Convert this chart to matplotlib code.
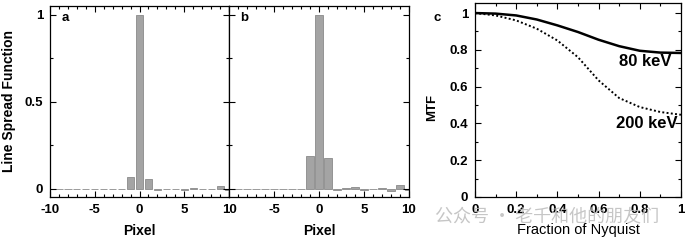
import matplotlib
matplotlib.use("Agg")
import matplotlib.pyplot as plt
from matplotlib.ticker import MultipleLocator

# line spread function, pixels -10..10
pixels = list(range(-10, 11))
lsf_a = [0.0, 0.0, 0.0, 0.0, 0.0, 0.0, 0.0, 0.0, 0.0, 0.07, 1.0, 0.06,
         -0.005, -0.003, 0.002, -0.008, 0.004, -0.003, -0.002, 0.015, -0.005]
lsf_b = [0.0, 0.0, 0.0, 0.0, 0.0, 0.0, 0.0, 0.0, 0.002, 0.19, 1.0, 0.18,
         -0.005, 0.003, 0.012, -0.005, -0.003, 0.004, -0.01, 0.02, -0.005]
pixel_ticks = [-10, -5, 0, 5, 10]
pixel_labels_a = ["-10", "-5", "0", "5", "10"]
pixel_labels_b = ["", "-5", "0", "5", "10"]

# MTF vs fraction of Nyquist
nyq = [0.0, 0.1, 0.2, 0.3, 0.4, 0.5, 0.6, 0.7, 0.8, 0.9, 1.0]
mtf_80 = [1.0, 0.997, 0.987, 0.965, 0.933, 0.897, 0.855, 0.82, 0.795, 0.785, 0.783]
mtf_200 = [1.0, 0.987, 0.96, 0.915, 0.851, 0.76, 0.634, 0.538, 0.489, 0.462, 0.447]
frac_ticks = [0, 0.2, 0.4, 0.6, 0.8, 1]
frac_labels = ["0", "0.2", "0.4", "0.6", "0.8", "1"]

plt.rcParams["font.family"] = ["Liberation Sans", "DejaVu Sans"]
plt.rcParams["font.weight"] = "bold"

fig = plt.figure(figsize=(6.92, 2.45), dpi=100)
ax_a = fig.add_axes([0.0723, 0.196, 0.2587, 0.78])
ax_b = fig.add_axes([0.331, 0.196, 0.26, 0.78])
ax_c = fig.add_axes([0.6864, 0.196, 0.2976, 0.792])


def style_ticks(ax):
    ax.tick_params(which="both", direction="in", top=True, right=True,
                   labelsize=9.5, width=0.8, pad=5)
    ax.tick_params(which="major", length=4)
    ax.tick_params(which="minor", length=2.5)
    for sp in ax.spines.values():
        sp.set_linewidth(0.9)


bar_kw = dict(width=0.8, color="#a4a4a4", edgecolor="#8a8a8a", linewidth=0.6)
for ax, vals, lab, xlabs in [(ax_a, lsf_a, "a", pixel_labels_a),
                             (ax_b, lsf_b, "b", pixel_labels_b)]:
    ax.bar(pixels, vals, **bar_kw)
    ax.set_xlim(-10, 10)
    ax.set_ylim(-0.046, 1.052)
    ax.xaxis.set_minor_locator(MultipleLocator(1))
    ax.yaxis.set_minor_locator(MultipleLocator(0.25))
    ax.set_xticks(pixel_ticks)
    ax.set_xticklabels(xlabs)
    ax.set_yticks([0, 0.5, 1])
    style_ticks(ax)
    ax.set_xlabel("Pixel", fontsize=10, fontweight="bold", labelpad=6)
    ax.text(0.085, 0.937, lab, transform=ax.transAxes, fontsize=9.5,
            fontweight="bold", va="center", ha="center")
ax_a.set_yticklabels(["0", "0.5", "1"])
ax_a.set_ylabel("Line Spread Function", fontsize=10, fontweight="bold", labelpad=6)
ax_b.tick_params(labelleft=False)

ax_c.plot(nyq, mtf_80, color="black", linewidth=1.8)
ax_c.plot(nyq, mtf_200, color="black", linewidth=1.4, linestyle=(0, (1, 1.2)))
ax_c.set_xlim(0, 1)
ax_c.set_ylim(0, 1.055)
ax_c.xaxis.set_minor_locator(MultipleLocator(0.1))
ax_c.yaxis.set_minor_locator(MultipleLocator(0.1))
ax_c.set_xticks(frac_ticks)
ax_c.set_xticklabels(frac_labels)
ax_c.set_yticks(frac_ticks)
ax_c.set_yticklabels(frac_labels)
style_ticks(ax_c)
ax_c.set_ylabel("MTF", fontsize=9.5, fontweight="bold")
ax_c.yaxis.set_label_coords(-0.18, 0.46)
ax_c.set_xlabel("Fraction of Nyquist", fontsize=10.5, fontweight="normal", labelpad=5)
ax_c.text(-0.185, 0.923, "c", transform=ax_c.transAxes, fontsize=9.5,
          fontweight="bold", va="center", ha="center")
ax_c.text(0.825, 0.696, "80 keV", transform=ax_c.transAxes, fontsize=12,
          fontweight="bold", ha="center", va="center")
ax_c.text(0.835, 0.381, "200 keV", transform=ax_c.transAxes, fontsize=12,
          fontweight="bold", ha="center", va="center")

fig.text(0.628, 0.115, "公众号 · 老千和他的朋友们", fontsize=13,
         family=["Noto Sans CJK SC", "DejaVu Sans"], fontweight="normal",
         color="#b8b8b8", alpha=0.8, va="center", ha="left")

fig.savefig("out.png", dpi=100)
